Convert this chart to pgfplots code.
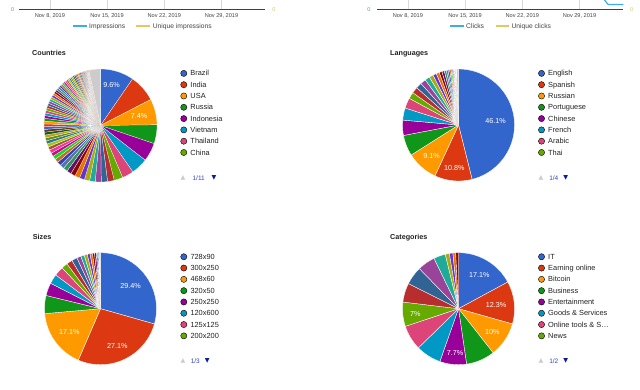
\documentclass[border=0pt]{standalone}
\usepackage{pgfplots}
\pgfplotsset{compat=1.18}
\usepackage{fontspec}
\setmainfont{Liberation Sans}
\newfontfamily\dejavu{DejaVu Sans}

\definecolor{gc0}{HTML}{3366CC}
\definecolor{gc1}{HTML}{DC3912}
\definecolor{gc2}{HTML}{FF9900}
\definecolor{gc3}{HTML}{109618}
\definecolor{gc4}{HTML}{990099}
\definecolor{gc5}{HTML}{0099C6}
\definecolor{gc6}{HTML}{DD4477}
\definecolor{gc7}{HTML}{66AA00}
\definecolor{gc8}{HTML}{B82E2E}
\definecolor{gc9}{HTML}{316395}
\definecolor{gc10}{HTML}{994499}
\definecolor{gc11}{HTML}{22AA99}
\definecolor{gc12}{HTML}{AAAA11}
\definecolor{gc13}{HTML}{6633CC}
\definecolor{gc14}{HTML}{E67300}
\definecolor{gc15}{HTML}{8B0707}
\definecolor{gc16}{HTML}{651067}
\definecolor{gc17}{HTML}{329262}
\definecolor{gc18}{HTML}{5574A6}
\definecolor{gc19}{HTML}{3B3EAC}
\definecolor{gc20}{HTML}{B77322}
\definecolor{gc21}{HTML}{16D620}
\definecolor{gc22}{HTML}{B91383}
\definecolor{gc23}{HTML}{F4359E}
\definecolor{gc24}{HTML}{9C5935}
\definecolor{gc25}{HTML}{A9C413}
\definecolor{gc26}{HTML}{2A778D}
\definecolor{gc27}{HTML}{668D1C}
\definecolor{gc28}{HTML}{BEA413}
\definecolor{gc29}{HTML}{0C5922}
\definecolor{gc30}{HTML}{743411}
\definecolor{gother}{HTML}{CCCCCC}
\definecolor{lineblue}{HTML}{3AAEE6}
\definecolor{lineyellow}{HTML}{E8C55E}
\definecolor{zeroblue}{HTML}{5A9BD8}
\definecolor{zeroyellow}{HTML}{E2C46A}
\definecolor{txt}{HTML}{222222}
\definecolor{txt2}{HTML}{444444}
\definecolor{pagerblue}{HTML}{3344C4}
\definecolor{pagernavy}{HTML}{0A1A9E}

\newcommand\legfont{\fontsize{7.4}{9}\selectfont}
\newcommand\lblfont{\fontsize{7.2}{9}\selectfont}
\newcommand\titlefont{\fontsize{7.2}{9}\selectfont\bfseries}
\newcommand\tickfont{\fontsize{5.6}{7}\selectfont}
\newcommand\toplegfont{\fontsize{6.7}{8}\selectfont}

% slices: clockwise from 12 o'clock, percentages; #2 = "Other" (grey) share
\newcommand\drawpie[3]{%
  \xdef\pcum{0}\xdef\pidx{0}%
  \foreach \pv in {#1}{%
    \pgfmathsetmacro\pst{\pcum*3.6}%
    \pgfmathsetmacro\pen{(\pcum+\pv)*3.6}%
    \pgfmathtruncatemacro\pci{mod(\pidx,31)}%
    \pgfmathtruncatemacro\pns{max(2,ceil((\pen-\pst)/2)+1)}%
    \edef\ptemp{\noexpand\addplot[forget plot,fill=gc\pci,draw=white,line width=#3,line join=round,domain=\pst:\pen,samples=\pns] ({sin(x)},{cos(x)}) -- (axis cs:0,0) -- cycle;}%
    \ptemp
    \pgfmathsetmacro\pnew{\pcum+\pv}\xdef\pcum{\pnew}%
    \pgfmathtruncatemacro\pnewi{\pidx+1}\xdef\pidx{\pnewi}%
  }%
  \ifdim #2pt>0pt
    \pgfmathsetmacro\pst{\pcum*3.6}%
    \pgfmathsetmacro\pen{(\pcum+#2)*3.6}%
    \pgfmathtruncatemacro\pns{max(2,ceil((\pen-\pst)/2)+1)}%
    \edef\ptemp{\noexpand\addplot[forget plot,fill=gother,draw=white,line width=#3,line join=round,domain=\pst:\pen,samples=\pns] ({sin(x)},{cos(x)}) -- (axis cs:0,0) -- cycle;}%
    \ptemp
  \fi
}

\pgfplotsset{
  pieaxis/.style={
    anchor=center, xmin=-1, xmax=1, ymin=-1, ymax=1, hide axis, clip=false,
    legend cell align=left,
    legend image code/.code={\fill[##1] (3.1pt,0.6pt) circle[radius=3.1pt];},
    legend style={draw=none, fill=none, inner sep=0pt, anchor=north west,
      row sep=3.8pt, column sep=3.4pt, font=\legfont, text=txt,
      nodes={inner sep=0pt, text height=5.6pt, text depth=1.6pt}},
  },
  topaxis/.style={
    anchor=south west, scale only axis, width=246pt, height=20pt,
    xmin=4.26, xmax=34.36, ymin=0, ymax=1,
    axis x line*=bottom, axis y line=none,
    xtick={8,15,22,29},
    xticklabels={{Nov 8, 2019},{Nov 15, 2019},{Nov 22, 2019},{Nov 29, 2019}},
    xmajorgrids, grid style={draw=black!15, line width=0.7pt},
    major tick length=0pt,
    x axis line style={draw=black!75, line width=0.8pt},
    xticklabel style={font=\tickfont, text=txt2, anchor=north, inner sep=0pt, yshift=-4.3pt},
    ytick=\empty,
  },
}

\newcommand\pager[6]{%
  \node[text=gother, font=\dejavu\fontsize{6.2}{7}\selectfont, inner sep=0pt] at (#1pt,#2pt) {▲};
  \node[text=pagerblue, font=\fontsize{6.5}{8}\selectfont, inner sep=0pt] at (#3pt,#2pt) {#4};
  \node[text=pagernavy, font=\dejavu\fontsize{6.2}{7}\selectfont, inner sep=0pt] at (#5pt,#2pt) {▼};
}

\begin{document}
\begin{tikzpicture}
\path[use as bounding box] (0,0) rectangle (640pt,390pt);
\clip (0,0) rectangle (640pt,390pt);
\fill[white] (0,0) rectangle (640pt,390pt);

% ---------------- top strip: ends of the two line charts
\begin{axis}[topaxis, at={(19.3pt,380.7pt)}]
\addplot[draw=none, forget plot] coordinates {(10,0)};
\end{axis}
\begin{axis}[topaxis, at={(377.3pt,380.7pt)}]
\addplot[lineblue, line width=1.2pt, forget plot] coordinates {(31.8,0.6) (32.5,0.24) (34.36,0.24)};
\end{axis}

\node[text=zeroblue, font=\tickfont, inner sep=0pt] at (12.7pt,380.7pt) {0};
\node[text=zeroyellow, font=\tickfont, inner sep=0pt] at (274pt,380.7pt) {0};
\node[text=zeroblue, font=\tickfont, inner sep=0pt] at (369pt,380.7pt) {0};
\node[text=zeroyellow, font=\tickfont, inner sep=0pt] at (631.7pt,380.7pt) {0};

\draw[draw=lineblue, line width=1.8pt] (73.3pt,364.3pt) -- (87.3pt,364.3pt);
\node[anchor=base west, inner sep=0pt, font=\toplegfont, text=txt2] at (89pt,361.9pt) {Impressions};
\draw[draw=lineyellow, line width=1.8pt] (136pt,364.3pt) -- (150pt,364.3pt);
\node[anchor=base west, inner sep=0pt, font=\toplegfont, text=txt2] at (152.7pt,361.9pt) {Unique impressions};
\draw[draw=lineblue, line width=1.8pt] (450pt,364.3pt) -- (464pt,364.3pt);
\node[anchor=base west, inner sep=0pt, font=\toplegfont, text=txt2] at (466pt,361.9pt) {Clicks};
\draw[draw=lineyellow, line width=1.8pt] (495.7pt,364.3pt) -- (509.3pt,364.3pt);
\node[anchor=base west, inner sep=0pt, font=\toplegfont, text=txt2] at (511.3pt,361.9pt) {Unique clicks};

% ---------------- titles
\node[anchor=base west, inner sep=0pt, font=\titlefont, text=txt] at (32pt,334.1pt) {Countries};
\node[anchor=base west, inner sep=0pt, font=\titlefont, text=txt] at (390pt,334.1pt) {Languages};
\node[anchor=base west, inner sep=0pt, font=\titlefont, text=txt] at (32.7pt,150.7pt) {Sizes};
\node[anchor=base west, inner sep=0pt, font=\titlefont, text=txt] at (390pt,150.7pt) {Categories};

% ---------------- Countries
\begin{axis}[pieaxis, at={(100.5pt,264.5pt)}, x=56.5pt, y=56.5pt,
  legend style={at={(1.206,0.992)}}]
\drawpie{9.6,7.8,7.4,5.4,5.3,4.8,3.3,2.5,
1.9,1.8,1.7,1.6,1.5,1.45,1.4,1.35,1.3,1.25,1.2,1.15,1.1,1.05,1.0,1.0,0.95,0.9,0.9,0.85,0.85,0.8,0.8,0.8,0.75,
0.80,0.79,0.77,0.76,0.74,0.73,0.71,0.70,0.68,0.67,0.65,0.64,0.62,0.61,0.59,0.58,0.56,0.55,0.53,0.52,0.50,0.49,0.47,0.46,0.44,0.43,0.41,0.40,0.38,0.37,0.35,0.34,0.32,0.31,0.29,0.28,0.26,0.25,0.23,0.22,0.20,0.19,0.17,0.16,0.15}{3.18}{0.22pt}
\node[text=white, font=\lblfont, inner sep=0pt] at (axis cs:0.198,0.717) {9.6\%};
\node[text=white, font=\lblfont, inner sep=0pt] at (axis cs:0.681,0.168) {7.4\%};
\addlegendimage{fill=gc0}\addlegendentry{Brazil}
\addlegendimage{fill=gc1}\addlegendentry{India}
\addlegendimage{fill=gc2}\addlegendentry{USA}
\addlegendimage{fill=gc3}\addlegendentry{Russia}
\addlegendimage{fill=gc4}\addlegendentry{Indonesia}
\addlegendimage{fill=gc5}\addlegendentry{Vietnam}
\addlegendimage{fill=gc6}\addlegendentry{Thailand}
\addlegendimage{fill=gc7}\addlegendentry{China}
\end{axis}
\pager{183}{212}{198.7}{1/11}{214}{}

% ---------------- Languages
\begin{axis}[pieaxis, at={(458.5pt,265pt)}, x=56pt, y=56pt,
  legend style={at={(1.210,0.992)}}]
\drawpie{46.1,10.8,9.1,6.0,4.4,3.5,3.0,1.9,
1.8,1.7,1.6,1.4,1.2,1.0,0.9,0.8,0.7,0.6,0.5,0.45,0.4,0.35,0.3,0.25,0.2,0.2,0.15,0.15}{0.55}{0.35pt}
\node[text=white, font=\lblfont, inner sep=0pt] at (axis cs:0.664,0.077) {46.1\%};
\node[text=white, font=\lblfont, inner sep=0pt] at (axis cs:-0.075,-0.773) {10.8\%};
\node[text=white, font=\lblfont, inner sep=0pt] at (axis cs:-0.479,-0.554) {9.1\%};
\addlegendimage{fill=gc0}\addlegendentry{English}
\addlegendimage{fill=gc1}\addlegendentry{Spanish}
\addlegendimage{fill=gc2}\addlegendentry{Russian}
\addlegendimage{fill=gc3}\addlegendentry{Portuguese}
\addlegendimage{fill=gc4}\addlegendentry{Chinese}
\addlegendimage{fill=gc5}\addlegendentry{French}
\addlegendimage{fill=gc6}\addlegendentry{Arabic}
\addlegendimage{fill=gc7}\addlegendentry{Thai}
\end{axis}
\pager{541}{212}{553.8}{1/4}{565.7}{}

% ---------------- Sizes
\begin{axis}[pieaxis, at={(100.5pt,81.3pt)}, x=56pt, y=56pt,
  legend style={at={(1.2125,0.995)}}]
\drawpie{29.4,27.1,17.1,5.2,3.7,2.8,2.7,1.8,
1.7,1.6,1.2,1.0,0.9,0.8,0.7,0.6,0.5,0.4,0.3,0.2}{0.3}{0.35pt}
\node[text=white, font=\lblfont, inner sep=0pt] at (axis cs:0.539,0.402) {29.4\%};
\node[text=white, font=\lblfont, inner sep=0pt] at (axis cs:0.30,-0.664) {27.1\%};
\node[text=white, font=\lblfont, inner sep=0pt] at (axis cs:-0.557,-0.414) {17.1\%};
\addlegendimage{fill=gc0}\addlegendentry{728x90}
\addlegendimage{fill=gc1}\addlegendentry{300x250}
\addlegendimage{fill=gc2}\addlegendentry{468x60}
\addlegendimage{fill=gc3}\addlegendentry{320x50}
\addlegendimage{fill=gc4}\addlegendentry{250x250}
\addlegendimage{fill=gc5}\addlegendentry{120x600}
\addlegendimage{fill=gc6}\addlegendentry{125x125}
\addlegendimage{fill=gc7}\addlegendentry{200x200}
\end{axis}
\pager{183}{29}{195.3}{1/3}{207.3}{}

% ---------------- Categories
\begin{axis}[pieaxis, at={(458.5pt,81.3pt)}, x=56pt, y=56pt,
  legend style={at={(1.21,0.995)}}]
\drawpie{17.1,12.3,10.0,8.3,7.7,7.3,7.2,7.0,5.5,5.3,5.1,3.4,1.2,1.0,0.8,0.8}{0}{0.35pt}
\node[text=white, font=\lblfont, inner sep=0pt] at (axis cs:0.371,0.598) {17.1\%};
\node[text=white, font=\lblfont, inner sep=0pt] at (axis cs:0.67,0.0625) {12.3\%};
\node[text=white, font=\lblfont, inner sep=0pt] at (axis cs:0.604,-0.414) {10\%};
\node[text=white, font=\lblfont, inner sep=0pt] at (axis cs:-0.0625,-0.789) {7.7\%};
\node[text=white, font=\lblfont, inner sep=0pt] at (axis cs:-0.771,-0.093) {7\%};
\addlegendimage{fill=gc0}\addlegendentry{IT}
\addlegendimage{fill=gc1}\addlegendentry{Earning online}
\addlegendimage{fill=gc2}\addlegendentry{Bitcoin}
\addlegendimage{fill=gc3}\addlegendentry{Business}
\addlegendimage{fill=gc4}\addlegendentry{Entertainment}
\addlegendimage{fill=gc5}\addlegendentry{Goods \& Services}
\addlegendimage{fill=gc6}\addlegendentry{Online tools \& S…}
\addlegendimage{fill=gc7}\addlegendentry{News}
\end{axis}
\pager{541}{29}{553.8}{1/2}{565.7}{}

\end{tikzpicture}
\end{document}
